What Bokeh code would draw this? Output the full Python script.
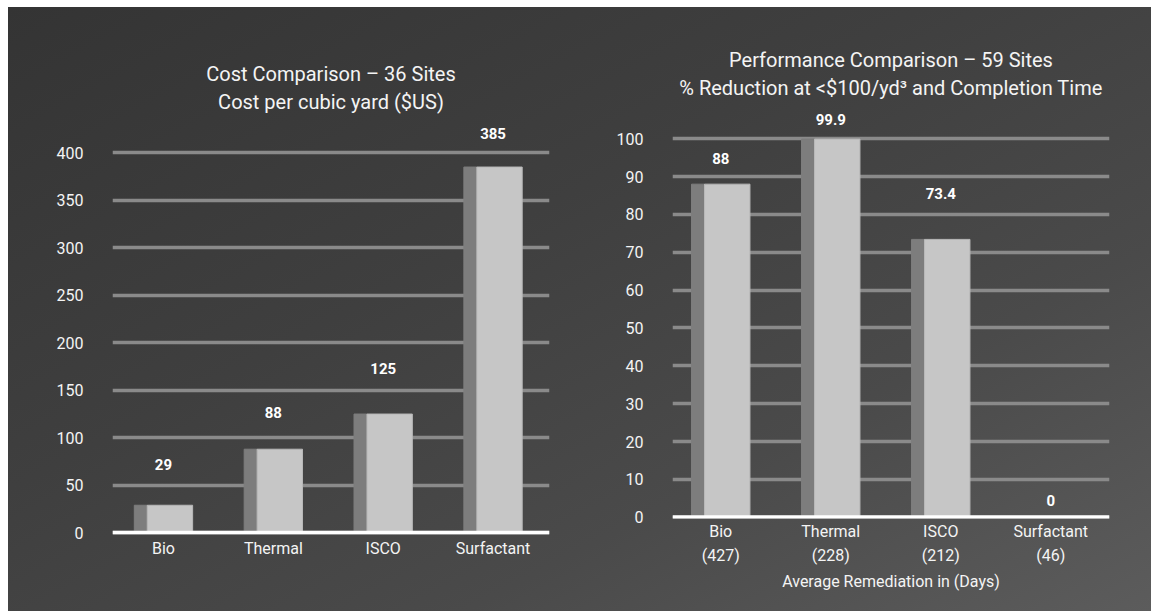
from bokeh.plotting import figure
from bokeh.layouts import row, column
from bokeh.models import FixedTicker, Span, Title, ColumnDataSource, Range1d
from bokeh.embed import file_html
from bokeh.resources import INLINE
from bokeh.core.properties import value
import numpy as np

# ---------------- data ----------------
categories = ["Bio", "Thermal", "ISCO", "Surfactant"]
cost_per_yd3 = [29, 88, 125, 385]
cost_ticks = [0, 50, 100, 150, 200, 250, 300, 350, 400]
cost_labels = ["29", "88", "125", "385"]

pct_reduction = [88, 99.9, 73.4, 0]
remediation_days = [427, 228, 212, 46]
pct_ticks = [0, 10, 20, 30, 40, 50, 60, 70, 80, 90, 100]
pct_labels = ["88", "99.9", "73.4", "0"]

# ---------------- style ----------------
FONT = "Roboto"
TXT = "#f4f4f4"
GRID = "#8a8a8a"
DARK = "#7d7d7d"
LIGHT = "#c6c6c6"
# pixel lift of each value label above its bar top
cost_label_lift = [41, 37, 46, 34]
pct_label_lift = [26, 20, 46, 17]


def make_chart(width, height, mb, xr, yr, ticks, tick_labels, vals, val_texts,
               lifts, title1, title2, xstand, axis_label=None):
    p = figure(width=width, height=height,
               x_range=Range1d(*xr), y_range=Range1d(*yr),
               output_backend="svg", toolbar_location=None,
               title_location=None,
               min_border_left=mb[0], min_border_right=mb[1],
               min_border_top=mb[2], min_border_bottom=mb[3])
    p.background_fill_alpha = 0
    p.border_fill_alpha = 0
    p.outline_line_color = None

    xs = np.arange(len(categories))
    half = 0.2655
    side = 0.118
    p.quad(left=xs - half, right=xs - half + side, bottom=0, top=vals,
           fill_color=DARK, line_color=DARK, line_width=1)
    p.quad(left=xs - half + side, right=xs + half, bottom=0, top=vals,
           fill_color=LIGHT, line_color="#b8b8b8", line_width=1)

    src = ColumnDataSource(dict(x=xs, y=vals, t=val_texts,
                                dy=[-d for d in lifts]))
    p.text(x="x", y="y", text="t", y_offset="dy", source=src,
           text_align="center", text_baseline="middle",
           text_color="white", text_font=value(FONT),
           text_font_style="bold", text_font_size="15px")

    p.add_layout(Span(location=0, dimension="width",
                      line_color="white", line_width=4))

    # axes
    p.xaxis.ticker = FixedTicker(ticks=list(xs))
    p.xaxis.major_label_overrides = {int(i): lab for i, lab in zip(xs, tick_labels)}
    p.yaxis.ticker = FixedTicker(ticks=ticks)
    for ax in (p.xaxis[0], p.yaxis[0]):
        ax.axis_line_color = None
        ax.major_tick_line_color = None
        ax.minor_tick_line_color = None
        ax.major_label_text_color = TXT
        ax.major_label_text_font = FONT
        ax.major_label_text_font_size = "16px"
    p.xaxis.major_label_standoff = xstand
    p.xaxis.major_label_text_line_height = 1.3
    p.yaxis.major_label_standoff = 23
    if axis_label:
        p.xaxis.axis_label = axis_label
        p.xaxis.axis_label_text_color = TXT
        p.xaxis.axis_label_text_font = FONT
        p.xaxis.axis_label_text_font_size = "16px"
        p.xaxis.axis_label_text_font_style = "normal"
        p.xaxis.axis_label_standoff = 4

    p.xgrid.grid_line_color = None
    p.ygrid.ticker = FixedTicker(ticks=ticks)
    p.ygrid.grid_line_color = GRID
    p.ygrid.grid_line_width = 3.5

    p.add_layout(Title(text=title2, align="center", text_color=TXT,
                       text_font=FONT, text_font_size="20px",
                       text_font_style="normal", standoff=2), "above")
    p.add_layout(Title(text=title1, align="center", text_color=TXT,
                       text_font=FONT, text_font_size="20px",
                       text_font_style="normal", standoff=2), "above")
    return p


left = make_chart(
    572, 604, (104, 31, 107, 77),
    (-0.464, 3.514), (-1.8, 440.3),
    cost_ticks, categories, cost_per_yd3, cost_labels, cost_label_lift,
    "Cost Comparison \u2013 36 Sites", "Cost per cubic yard ($US)", -2)

right = make_chart(
    571, 604, (92, 42, 93, 93),
    (-0.4386, 3.534), (-0.34, 110.1),
    pct_ticks, [f"{c}\n({d})" for c, d in zip(categories, remediation_days)],
    pct_reduction, pct_labels, pct_label_lift,
    "Performance Comparison \u2013 59 Sites",
    "% Reduction at <$100/yd\u00b3 and Completion Time", -3,
    axis_label="Average Remediation in (Days)")

layout = row(column(left), column(right), margin=(7, 0, 0, 8),
             styles={"background": "linear-gradient(to bottom right, #343434 0%, #3f3f3f 40%, #4a4a4a 70%, #5c5c5c 100%)"})

open("out.html", "w").write(file_html(layout, INLINE))
